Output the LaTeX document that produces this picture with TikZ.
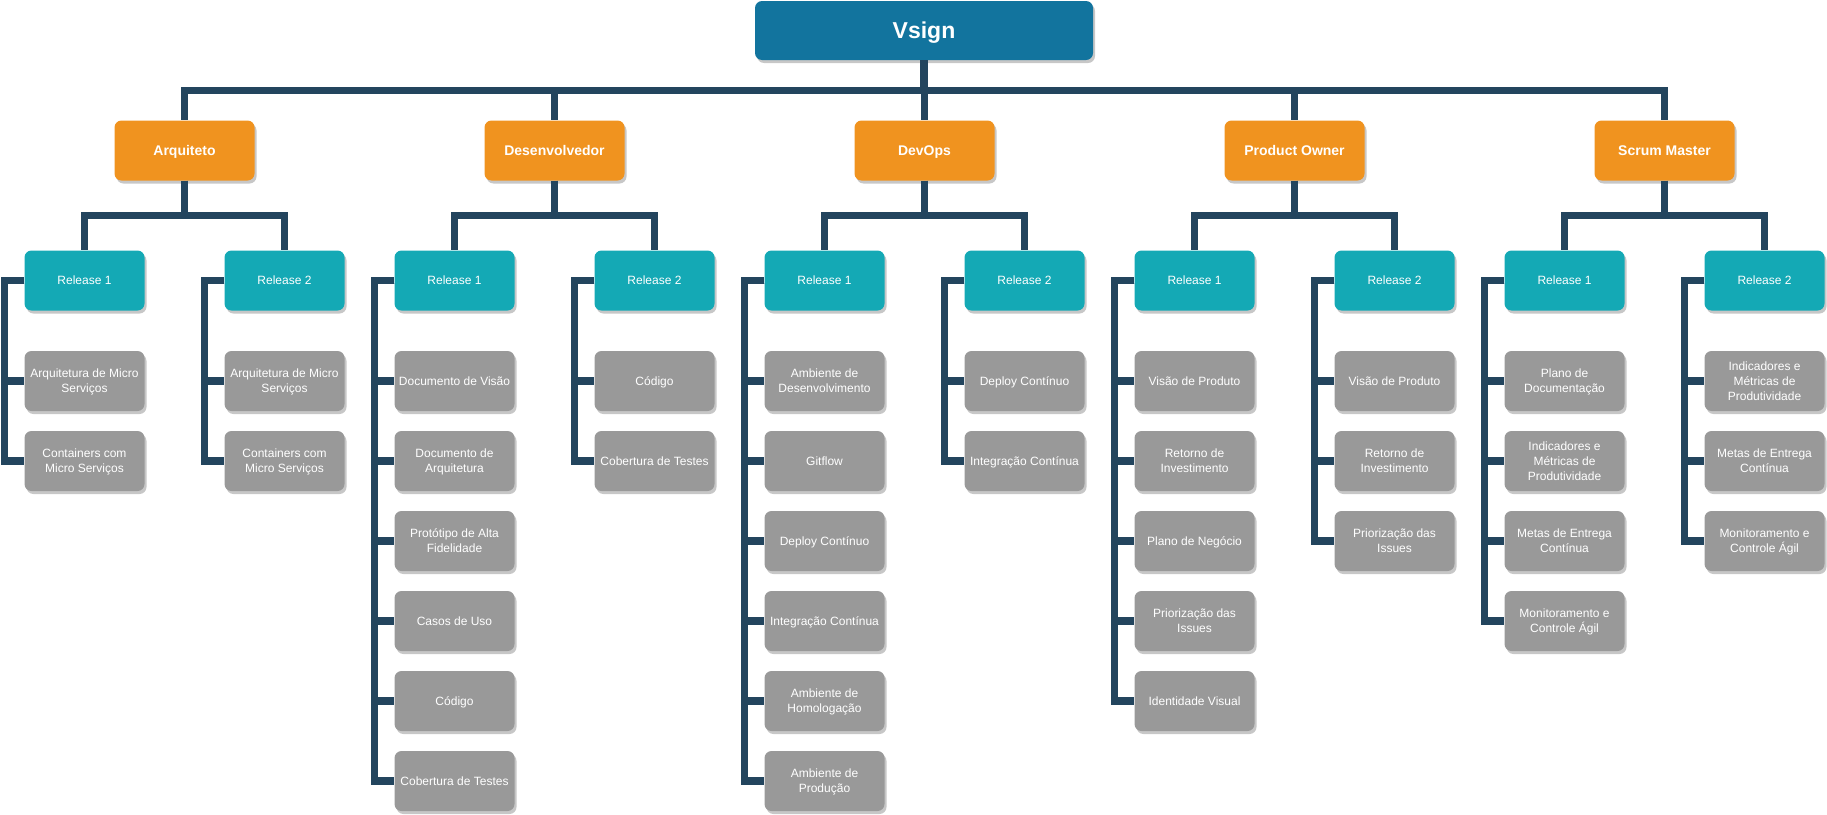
\documentclass[tikz,border=0pt]{standalone}
\usepackage{fontspec}
\setmainfont{Liberation Sans}
\usetikzlibrary{shadows}
\definecolor{rootblue}{HTML}{12749E}
\definecolor{roleorange}{HTML}{F0931F}
\definecolor{relteal}{HTML}{14A9B5}
\definecolor{taskgray}{HTML}{999999}
\definecolor{linknavy}{HTML}{23455E}
\tikzset{
	box/.style={rectangle,rounded corners=7pt,text=white,inner sep=0pt,align=center,text depth=0pt,
		drop shadow={shadow xshift=2pt,shadow yshift=-3pt,fill=black!22,opacity=1}},
	root/.style={box,fill=rootblue,minimum width=338pt,minimum height=59pt,
		font=\fontsize{23}{27}\selectfont\bfseries},
	role/.style={box,fill=roleorange,minimum width=140pt,minimum height=60pt,
		font=\fontsize{14}{17}\selectfont\bfseries},
	release/.style={box,fill=relteal,minimum width=120pt,minimum height=60pt,
		font=\fontsize{12}{15}\selectfont},
	task/.style={box,fill=taskgray,minimum width=120pt,minimum height=60pt,
		font=\fontsize{12}{15}\selectfont},
	link/.style={draw=linknavy,line width=7.5pt,line join=miter},
	bus/.style={to path={-- ++(0,#1) -| (\tikztotarget)}},
	tap/.style={to path={-- ++(-20,0) |- (\tikztotarget)}},
}
\begin{document}
\begin{tikzpicture}[
		x=1pt,
		y=-1pt,
	]
		\useasboundingbox (0,0) rectangle (1827,814);

		% root and roles
		\node[root] (vsign) at (924, 30.5) {Vsign};
		\begin{scope}[every node/.style={role}]
			\node (arq) at (184.5, 150.5) {Arquiteto};
			\node (dev) at (554.5, 150.5) {Desenvolvedor};
			\node (ops) at (924.5, 150.5) {DevOps};
			\node (po)  at (1294.5, 150.5) {Product Owner};
			\node (sm)  at (1664.5, 150.5) {Scrum Master};
		\end{scope}

		% releases
		\begin{scope}[every node/.style={release}]
			\node (arq1) at (84.5, 280.5) {Release 1};
			\node (arq2) at (284.5, 280.5) {Release 2};
			\node (dev1) at (454.5, 280.5) {Release 1};
			\node (dev2) at (654.5, 280.5) {Release 2};
			\node (ops1) at (824.5, 280.5) {Release 1};
			\node (ops2) at (1024.5, 280.5) {Release 2};
			\node (po1)  at (1194.5, 280.5) {Release 1};
			\node (po2)  at (1394.5, 280.5) {Release 2};
			\node (sm1)  at (1564.5, 280.5) {Release 1};
			\node (sm2)  at (1764.5, 280.5) {Release 2};
		\end{scope}

		% tasks
		\begin{scope}[every node/.style={task}]
			\node (arq1a) at (84.5, 381) {Arquitetura de Micro\\Serviços};
			\node (arq1b) at (84.5, 461) {Containers com\\Micro Serviços};
			\node (arq2a) at (284.5, 381) {Arquitetura de Micro\\Serviços};
			\node (arq2b) at (284.5, 461) {Containers com\\Micro Serviços};

			\node (dev1a) at (454.5, 381) {Documento de Visão};
			\node (dev1b) at (454.5, 461) {Documento de\\Arquitetura};
			\node (dev1c) at (454.5, 541) {Protótipo de Alta\\Fidelidade};
			\node (dev1d) at (454.5, 621) {Casos de Uso};
			\node (dev1e) at (454.5, 701) {Código};
			\node (dev1f) at (454.5, 781) {Cobertura de Testes};
			\node (dev2a) at (654.5, 381) {Código};
			\node (dev2b) at (654.5, 461) {Cobertura de Testes};

			\node (ops1a) at (824.5, 381) {Ambiente de\\Desenvolvimento};
			\node (ops1b) at (824.5, 461) {Gitflow};
			\node (ops1c) at (824.5, 541) {Deploy Contínuo};
			\node (ops1d) at (824.5, 621) {Integração Contínua};
			\node (ops1e) at (824.5, 701) {Ambiente de\\Homologação};
			\node (ops1f) at (824.5, 781) {Ambiente de\\Produção};
			\node (ops2a) at (1024.5, 381) {Deploy Contínuo};
			\node (ops2b) at (1024.5, 461) {Integração Contínua};

			\node (po1a) at (1194.5, 381) {Visão de Produto};
			\node (po1b) at (1194.5, 461) {Retorno de\\Investimento};
			\node (po1c) at (1194.5, 541) {Plano de Negócio};
			\node (po1d) at (1194.5, 621) {Priorização das\\Issues};
			\node (po1e) at (1194.5, 701) {Identidade Visual};
			\node (po2a) at (1394.5, 381) {Visão de Produto};
			\node (po2b) at (1394.5, 461) {Retorno de\\Investimento};
			\node (po2c) at (1394.5, 541) {Priorização das\\Issues};

			\node (sm1a) at (1564.5, 381) {Plano de\\Documentação};
			\node (sm1b) at (1564.5, 461) {Indicadores e\\Métricas de\\Produtividade};
			\node (sm1c) at (1564.5, 541) {Metas de Entrega\\Contínua};
			\node (sm1d) at (1564.5, 621) {Monitoramento e\\Controle Ágil};
			\node (sm2a) at (1764.5, 381) {Indicadores e\\Métricas de\\Produtividade};
			\node (sm2b) at (1764.5, 461) {Metas de Entrega\\Contínua};
			\node (sm2c) at (1764.5, 541) {Monitoramento e\\Controle Ágil};
		\end{scope}

		% root to roles
		\path [link] (vsign.south) edge[bus=30.5] (arq.north) edge[bus=30.5] (dev.north)
			edge[bus=30.5] (ops.north) edge[bus=30.5] (po.north) edge[bus=30.5] (sm.north);

		% roles to releases
		\path [link] (arq.south) edge[bus=35] (arq1.north) edge[bus=35] (arq2.north);
		\path [link] (dev.south) edge[bus=35] (dev1.north) edge[bus=35] (dev2.north);
		\path [link] (ops.south) edge[bus=35] (ops1.north) edge[bus=35] (ops2.north);
		\path [link] (po.south) edge[bus=35] (po1.north) edge[bus=35] (po2.north);
		\path [link] (sm.south) edge[bus=35] (sm1.north) edge[bus=35] (sm2.north);

		% releases to tasks
		\path [link] (arq1.west) edge[tap] (arq1a.west) edge[tap] (arq1b.west);
		\path [link] (arq2.west) edge[tap] (arq2a.west) edge[tap] (arq2b.west);
		\path [link] (dev1.west) edge[tap] (dev1a.west) edge[tap] (dev1b.west) edge[tap] (dev1c.west)
			edge[tap] (dev1d.west) edge[tap] (dev1e.west) edge[tap] (dev1f.west);
		\path [link] (dev2.west) edge[tap] (dev2a.west) edge[tap] (dev2b.west);
		\path [link] (ops1.west) edge[tap] (ops1a.west) edge[tap] (ops1b.west) edge[tap] (ops1c.west)
			edge[tap] (ops1d.west) edge[tap] (ops1e.west) edge[tap] (ops1f.west);
		\path [link] (ops2.west) edge[tap] (ops2a.west) edge[tap] (ops2b.west);
		\path [link] (po1.west) edge[tap] (po1a.west) edge[tap] (po1b.west) edge[tap] (po1c.west)
			edge[tap] (po1d.west) edge[tap] (po1e.west);
		\path [link] (po2.west) edge[tap] (po2a.west) edge[tap] (po2b.west) edge[tap] (po2c.west);
		\path [link] (sm1.west) edge[tap] (sm1a.west) edge[tap] (sm1b.west) edge[tap] (sm1c.west)
			edge[tap] (sm1d.west);
		\path [link] (sm2.west) edge[tap] (sm2a.west) edge[tap] (sm2b.west) edge[tap] (sm2c.west);
	\end{tikzpicture}
\end{document}
